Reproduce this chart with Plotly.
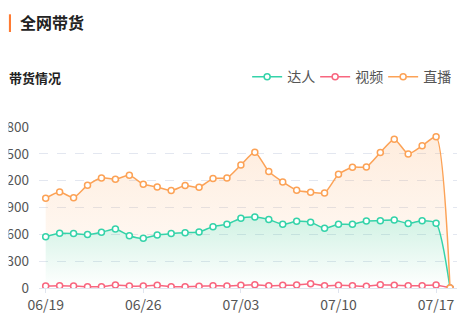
import plotly.graph_objects as go

dates = ["06/19", "06/20", "06/21", "06/22", "06/23", "06/24", "06/25", "06/26", "06/27", "06/28",
         "06/29", "06/30", "07/01", "07/02", "07/03", "07/04", "07/05", "07/06", "07/07", "07/08",
         "07/09", "07/10", "07/11", "07/12", "07/13", "07/14", "07/15", "07/16", "07/17", "07/18"]
daren = [574, 612, 608, 597, 623, 660, 585, 556, 593, 608, 619, 627, 686, 712, 780,
         794, 765, 712, 746, 735, 668, 712, 712, 750, 753, 761, 720, 753, 724, 0]
shipin = [22, 26, 22, 15, 15, 34, 22, 22, 30, 15, 15, 19, 26, 22, 30,
          37, 26, 30, 34, 48, 26, 30, 26, 19, 37, 30, 26, 26, 34, 0]
zhibo = [1004, 1074, 1010, 1149, 1231, 1216, 1261, 1160, 1130, 1089, 1145, 1127, 1223, 1231, 1376,
         1518, 1302, 1186, 1093, 1071, 1063, 1272, 1350, 1354, 1514, 1664, 1499, 1589, 1690, 0]
tick_labels = ["06/19", "06/26", "07/03", "07/10", "07/17"]
y_ticks = [0, 300, 600, 900, 1200, 1500, 1800]
names = ["达人", "视频", "直播"]

C_TEAL = "#34d3a9"
C_PINK = "#f8667f"
C_ORANGE = "#fca256"
FONT = "Noto Sans CJK SC"

fig = go.Figure()

# fill layers
fig.add_trace(go.Scatter(
    x=dates, y=daren, mode="lines", line=dict(width=0, shape="spline", smoothing=0.6),
    fill="tozeroy",
    fillgradient=dict(type="vertical", start=0, stop=800,
                      colorscale=[[0, "rgba(60,200,140,0.0)"], [1, "rgba(60,200,140,0.24)"]]),
    showlegend=False, hoverinfo="skip"))
fig.add_trace(go.Scatter(
    x=dates, y=zhibo, mode="lines", line=dict(width=0, shape="spline", smoothing=0.6),
    fill="tonexty",
    fillgradient=dict(type="vertical", start=500, stop=1700,
                      colorscale=[[0, "rgba(252,162,86,0.08)"], [1, "rgba(252,162,86,0.2)"]]),
    showlegend=False, hoverinfo="skip"))

for nm, ys, col in [(names[0], daren, C_TEAL), (names[1], shipin, C_PINK), (names[2], zhibo, C_ORANGE)]:
    fig.add_trace(go.Scatter(
        x=dates, y=ys, name=nm, mode="lines+markers",
        line=dict(color=col, width=1.5, shape="spline", smoothing=0.6),
        marker=dict(symbol="circle", size=6, color="white", line=dict(color=col, width=1.5)),
    ))

fig.update_layout(
    width=473, height=332,
    margin=dict(l=39, r=16, t=127, b=44),
    paper_bgcolor="white", plot_bgcolor="white",
    font=dict(family=FONT, size=14, color="#555"),
    legend=dict(orientation="h", traceorder="normal", xanchor="right", x=0.986,
                yanchor="middle", y=1.31,
                font=dict(family=FONT, size=14, color="#555"),
                itemwidth=30, entrywidth=23, entrywidthmode="pixels",
                bgcolor="rgba(0,0,0,0)"),
    annotations=[
        dict(text="<b>全网带货</b>", xref="paper", yref="paper", x=-0.05, y=1.652,
             xanchor="left", yanchor="middle", showarrow=False,
             font=dict(family=FONT, size=16, color="#222")),
        dict(text="<b>带货情况</b>", xref="paper", yref="paper", x=-0.077, y=1.31,
             xanchor="left", yanchor="middle", showarrow=False,
             font=dict(family=FONT, size=13, color="#222")),
    ],
    shapes=[
        # container edge clipping the leading digits of the y labels
        dict(type="rect", xref="paper", yref="paper", layer="above",
             x0=-39 / 418, x1=-30.5 / 418, y0=-0.1, y1=1.1,
             fillcolor="white", line=dict(width=0)),
        dict(type="rect", xref="paper", yref="paper", layer="above",
             x0=-0.072, x1=-0.067, y0=1.59, y1=1.70,
             fillcolor="#ff7b33", line=dict(width=0)),
    ],
)

fig.update_xaxes(
    type="category", range=[-0.48, 29.5],
    tickmode="array", tickvals=tick_labels, ticktext=tick_labels,
    showgrid=False, zeroline=False,
    showline=True, linecolor="#dfe4ee", linewidth=1,
    ticks="outside", ticklen=4, tickcolor="#dfe4ee",
    tickfont=dict(family=FONT, size=14, color="#555"),
    automargin=False,
)
fig.update_yaxes(
    range=[0, 1800], tickmode="array", tickvals=y_ticks,
    showgrid=True, gridcolor="#e3e7f0", griddash="dash", gridwidth=1,
    zeroline=False, showline=False,
    tickfont=dict(family=FONT, size=13.5, color="#555"),
    ticklabelstandoff=9,
    automargin=False,
)

fig.write_html("out.html")
